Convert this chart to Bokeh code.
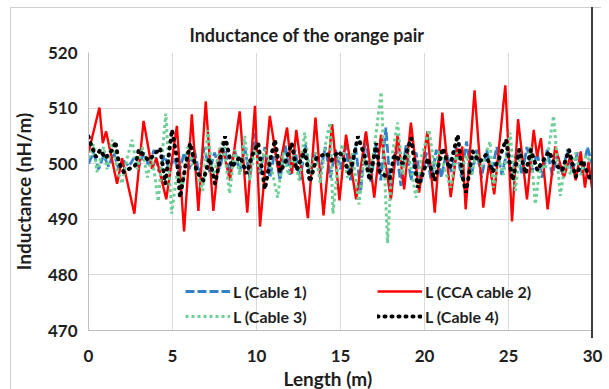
from bokeh.plotting import figure
from bokeh.models import (Range1d, FixedTicker, Legend, LegendItem, Title, InlineStyleSheet)
from bokeh.embed import file_html
from bokeh.resources import INLINE

# ---------------- data ----------------
red_x = [0.00, 0.65, 0.85, 1.05, 1.70, 2.00, 2.73, 3.28, 3.78, 4.04, 4.63, 5.26, 5.69, 6.15,
         6.54, 6.98, 7.43, 7.82, 8.05, 8.42, 9.00, 9.45, 9.91, 10.21, 10.79, 11.32, 11.82,
         12.11, 12.37, 13.06, 13.51, 13.99, 14.50, 14.94, 15.33, 15.93, 16.52, 17.01, 17.41,
         18.00, 18.40, 18.79, 19.19, 19.68, 20.17, 20.61, 21.06, 21.56, 21.95, 22.10, 22.25,
         22.45, 22.98, 23.50, 23.85, 24.15, 24.81, 25.21, 25.57, 26.10, 26.50, 26.70, 26.93,
         27.33, 27.78, 28.30, 28.70, 29.00, 29.30, 29.55, 29.76, 30.00]
red_y = [502.0, 510.1, 503.7, 505.8, 496.4, 501.0, 491.0, 507.7, 499.1, 501.0, 493.6, 506.8,
         487.8, 508.9, 491.5, 511.2, 491.5, 502.8, 502.0, 497.0, 509.4, 491.2, 510.4, 488.7,
         508.6, 498.5, 506.5, 498.2, 506.1, 490.2, 508.3, 490.7, 507.1, 493.4, 505.2, 493.6,
         505.8, 493.9, 505.2, 493.6, 505.2, 495.4, 507.4, 494.8, 505.8, 491.2, 509.2, 494.0,
         502.8, 501.3, 503.1, 491.8, 513.2, 492.1, 500.3, 494.5, 514.1, 489.6, 508.0, 493.6,
         506.1, 501.3, 504.6, 491.8, 503.1, 497.6, 501.6, 497.0, 502.2, 495.7, 500.3, 495.0]

blue_x = [round(0.3 * i, 2) for i in range(101)]
blue_y = [500.0, 502.0, 499.0, 501.5, 499.5, 502.0, 499.0, 500.5, 499.5, 501.0,
          499.5, 502.0, 499.5, 502.5, 498.5, 501.5, 499.0, 501.0, 498.5, 502.0,
          499.0, 502.5, 498.0, 503.0, 498.5, 502.0, 499.0, 503.0, 498.0, 502.5,
          498.5, 503.0, 497.5, 505.5, 498.0, 503.0, 497.5, 502.5, 497.0, 503.5,
          498.0, 502.5, 497.0, 503.5, 498.0, 502.0, 498.5, 503.0, 497.5, 502.5,
          499.0, 503.5, 497.0, 503.0, 495.0, 505.5, 496.5, 503.5, 497.0, 506.5,
          494.5, 503.0, 496.0, 503.5, 497.0, 502.0, 496.5, 502.0, 497.0, 502.5,
          497.5, 502.0, 498.5, 503.0, 497.5, 504.0, 498.0, 502.5, 497.5, 502.5,
          498.5, 503.0, 498.0, 502.0, 497.5, 502.5, 498.0, 503.0, 498.5, 502.0,
          497.5, 502.5, 498.0, 501.5, 498.0, 502.5, 498.5, 502.0, 498.0, 503.0,
          499.5]

green_x = [0.00, 0.30, 0.50, 0.90, 1.10, 1.40, 1.70, 2.00, 2.30, 2.59, 2.90, 3.20, 3.50, 3.78,
           4.15, 4.60, 4.95, 5.25, 5.60, 5.90, 6.20, 6.50, 6.80, 7.10, 7.40, 7.70, 8.00, 8.40,
           8.70, 9.00, 9.30, 9.60, 9.90, 10.20, 10.50, 10.90, 11.26, 11.60, 11.90, 12.20,
           12.55, 12.86, 13.20, 13.50, 13.80, 14.10, 14.38, 14.55, 14.85, 15.10, 15.40, 15.70,
           16.10, 16.40, 16.70, 17.00, 17.42, 17.80, 18.10, 18.40, 18.70, 19.00, 19.20, 19.50,
           19.80, 20.27, 20.60, 20.90, 21.20, 21.56, 21.90, 22.20, 22.50, 22.80, 23.10, 23.40,
           23.90, 24.10, 24.40, 24.70, 25.10, 25.40, 25.70, 26.00, 26.30, 26.60, 26.90, 27.20,
           27.68, 28.08, 28.40, 28.70, 29.00, 29.30, 29.60, 30.00]
green_y = [501.0, 503.5, 498.5, 503.0, 499.0, 504.3, 499.0, 496.4, 501.0, 504.3, 499.0, 503.0,
           497.5, 501.5, 493.2, 509.0, 491.0, 498.0, 496.0, 503.0, 500.0, 498.0, 495.1, 506.1,
           497.5, 501.0, 504.3, 494.6, 502.5, 498.0, 505.0, 497.0, 503.0, 498.5, 502.5, 499.0,
           493.9, 502.0, 498.0, 501.5, 497.0, 505.6, 498.0, 502.0, 496.5, 503.5, 507.4, 491.0,
           500.0, 503.5, 497.5, 502.0, 492.7, 501.0, 497.5, 502.5, 512.9, 485.7, 502.0, 507.4,
           498.0, 503.0, 499.0, 493.9, 501.0, 506.1, 499.0, 502.5, 499.0, 495.7, 502.0, 499.0,
           501.5, 498.0, 502.0, 499.5, 504.0, 495.7, 501.0, 498.0, 505.6, 495.1, 502.0, 498.5,
           503.0, 492.7, 500.0, 499.0, 508.6, 494.2, 500.5, 498.0, 502.0, 498.0, 501.5, 500.0]

black_x = [0.00, 0.15, 0.45, 0.70, 1.00, 1.50, 1.60, 1.80, 2.10, 2.79, 2.99, 3.58, 4.08, 4.27,
           4.47, 4.57, 4.87, 4.97, 5.26, 5.45, 5.76, 6.05, 6.45, 6.84, 7.20, 7.53, 8.13, 8.53,
           9.02, 9.42, 9.71, 10.10, 10.50, 10.80, 11.10, 11.40, 11.75, 12.09, 12.39, 12.88,
           13.18, 13.57, 14.17, 14.46, 14.86, 15.15, 15.55, 16.04, 16.44, 16.74, 17.13, 17.33,
           17.92, 18.22, 18.70, 19.21, 19.60, 20.00, 20.20, 20.60, 21.09, 21.48, 21.98, 22.27,
           22.47, 22.87, 23.26, 23.66, 24.05, 24.45, 24.85, 25.24, 25.64, 26.03, 26.33, 26.72,
           27.05, 27.42, 27.72, 28.20, 28.60, 29.00, 29.40, 29.88, 30.00]
black_y = [504.9, 503.4, 501.2, 502.5, 501.0, 502.8, 504.0, 500.3, 498.5, 499.7, 502.5, 500.6,
           502.2, 502.8, 498.5, 496.4, 503.7, 506.1, 501.0, 493.9, 499.4, 503.7, 498.5, 497.0,
           501.0, 496.4, 504.9, 499.4, 501.3, 498.2, 501.3, 503.7, 495.4, 500.5, 504.3, 498.5,
           500.5, 503.7, 498.8, 502.5, 496.7, 501.0, 501.9, 500.6, 502.2, 501.3, 497.9, 504.9,
           501.3, 497.0, 503.7, 498.5, 497.3, 501.6, 500.0, 504.6, 495.7, 499.1, 501.0, 497.0,
           502.8, 499.1, 505.2, 497.6, 494.8, 502.2, 500.3, 501.6, 498.5, 501.0, 504.3, 497.0,
           502.5, 498.2, 502.5, 498.8, 500.5, 502.2, 500.0, 498.8, 502.5, 497.6, 500.6, 497.0,
           498.5]

x_ticks = [0, 5, 10, 15, 20, 25, 30]
y_ticks = [470, 480, 490, 500, 510, 520]

title_text = "Inductance of the orange pair"
x_label = "Length (m)"
y_label = "Inductance (nH/m)"
series_labels = ["L (Cable 1)", "L (CCA cable 2)", "L (Cable 3)", "L (Cable 4)"]

# ---------------- figure ----------------
FONT = "Lato"
TXT = "#1e1e1e"

frame_css = InlineStyleSheet(css="""
:host::before { content: ''; position: absolute; left: 10px; top: 7px; width: 590px;
  height: 400px; border-left: 1px solid #d0d0d0; border-top: 1px solid #d0d0d0;
  pointer-events: none; z-index: 5; }
:host::after { content: ''; position: absolute; left: 591px; top: 7px; width: 0px;
  height: 331px; border-left: 2px solid #3c3c3c; pointer-events: none; z-index: 5; }
""")

p = figure(width=609, height=389, output_backend="svg", toolbar_location=None,
           x_range=Range1d(0, 30), y_range=Range1d(470, 520),
           min_border_left=88, min_border_right=17, min_border_top=52, min_border_bottom=59,
           stylesheets=[frame_css])
p.background_fill_color = "white"
p.border_fill_color = "white"
p.outline_line_color = None

p.title.text = title_text
p.title.align = "left"
p.title.offset = 101
p.title.text_font = FONT
p.title.text_font_size = "18px"
p.title.text_font_style = "bold"
p.title.text_color = TXT
p.title.standoff = 14

for ax in (p.xaxis[0], p.yaxis[0]):
    ax.major_tick_line_color = None
    ax.minor_tick_line_color = None
    ax.axis_line_color = "#bfbfbf"
    ax.major_label_text_font = FONT
    ax.major_label_text_font_size = "17px"
    ax.major_label_text_font_style = "bold"
    ax.major_label_text_color = TXT
    ax.axis_label_text_font = FONT
    ax.axis_label_text_font_size = "19px"
    ax.axis_label_text_font_style = "bold"
    ax.axis_label_text_color = TXT

p.xaxis.ticker = FixedTicker(ticks=x_ticks)
p.yaxis.ticker = FixedTicker(ticks=y_ticks)
p.yaxis.axis_label = y_label
p.xaxis.major_label_standoff = 13
p.yaxis.major_label_standoff = 5
p.yaxis.axis_label_standoff = 10

xlab = Title(text=x_label, align="left", offset=195, text_font=FONT, text_font_size="19px",
             text_font_style="bold", text_color=TXT, standoff=0)
p.add_layout(xlab, "below")

p.xgrid.ticker = FixedTicker(ticks=x_ticks)
p.ygrid.ticker = FixedTicker(ticks=y_ticks)
p.xgrid.grid_line_color = "#d9d9d9"
p.ygrid.grid_line_color = "#d9d9d9"

r1 = p.line(blue_x, blue_y, line_color="#3282C8", line_width=2.8, line_dash="9 3")
r2 = p.line(red_x, red_y, line_color="#FF0000", line_width=2.4)
r3 = p.line(green_x, green_y, line_color="#6FCF97", line_width=3, line_dash="3 3")
r4 = p.line(black_x, black_y, line_color="#000000", line_width=4, line_dash="1 6",
            line_cap="round")

leg_common = dict(glyph_width=45, glyph_height=20, label_height=20, spacing=5,
                  padding=0, margin=0, label_standoff=3, border_line_color=None,
                  background_fill_alpha=0, label_text_font=FONT,
                  label_text_font_size="16px", label_text_font_style="bold",
                  label_text_color=TXT)
leg1 = Legend(items=[LegendItem(label=series_labels[0], renderers=[r1]),
                     LegendItem(label=series_labels[2], renderers=[r3])],
              location=(97, 4), **leg_common)
leg2 = Legend(items=[LegendItem(label=series_labels[1], renderers=[r2]),
                     LegendItem(label=series_labels[3], renderers=[r4])],
              location=(289, 4), **leg_common)
p.add_layout(leg1, "center")
p.add_layout(leg2, "center")

open("out.html", "w").write(file_html(p, INLINE))
